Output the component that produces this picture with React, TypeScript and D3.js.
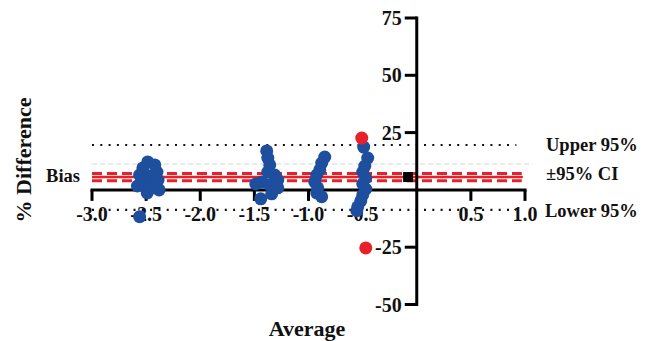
import React from "react";
import * as d3 from "d3";

// Bland-Altman style data: average vs % difference
const blueAvg = [
  -2.485, -2.42, -2.53, -2.4, -2.56, -2.47, -2.51, -2.39, -2.58, -2.45, -2.38, -2.49, -2.56,
  -1.386, -1.376, -1.358, -1.376, -1.312, -1.284, -1.432, -1.487, -1.358, -1.284, -1.34, -1.441,
  -0.85, -0.878, -0.896, -0.924, -0.942, -0.915, -0.924, -0.878,
  -0.49, -0.453, -0.48, -0.499, -0.471, -0.499, -0.471, -0.499, -0.517, -0.545, -0.554,
];
const blueDiff = [
  12.2, 10.9, 9.6, 7.8, 6.5, 6.1, 3.5, 4.3, 1.7, 0.9, 0, -1.3, -11.7,
  17, 13.9, 10.9, 7.8, 6.5, 4.3, 3.5, 2.6, 2.2, 0.9, -1.7, -3.9,
  14.3, 11.7, 8.7, 6.5, 3.5, 0.9, -1.3, -3,
  18.7, 13.9, 10.4, 7.8, 5.2, 2.6, 0.4, -2.2, -4.8, -7.4, -9.1,
];
const redAvg = [-0.508, -0.471];
const redDiff = [22.6, -25.3];
const squareAvg = [-0.08];
const squareDiff = [5.6];

const bias = 5.6;
const biasCI = [4.0, 7.2];
const upperLoA = 19.6;
const lowerLoA = -8.7;
const faintLine = 11.3;

const xTicks = [-3, -2.5, -2, -1.5, -1, -0.5, 0.5, 1];
const yTicks = [-50, -25, 25, 50, 75];

const BLUE = "#1d4f9e";
const RED = "#e8202a";
const FONT = '"Liberation Serif", "DejaVu Serif", "Times New Roman", serif';

export default function App() {
  const width = 649;
  const height = 341;

  const x = d3.scaleLinear().domain([-3, 1]).range([92, 525]);
  const y = d3.scaleLinear().domain([-50, 75]).range([304.5, 18]);

  const fmtX = (v: number) => d3.format(".1f")(v).replace("\u2212", "-");
  const fmtY = (v: number) => d3.format("d")(v).replace("\u2212", "-");

  return (
    <svg
      width={width}
      height={height}
      style={{
        position: "absolute",
        left: 0,
        top: 0,
        background: "#fff",
        fontFamily: FONT,
        fontWeight: 700,
      }}
    >
      {/* limits of agreement */}
      <line x1={x(-3)} x2={x(0.92)} y1={y(upperLoA)} y2={y(upperLoA)} stroke="#111" strokeWidth={2.2} strokeDasharray="2 6.3" />
      <line x1={x(-3)} x2={x(0.92)} y1={y(lowerLoA)} y2={y(lowerLoA)} stroke="#111" strokeWidth={2.2} strokeDasharray="2 6.3" />
      <line x1={x(-3)} x2={x(1.07)} y1={y(faintLine)} y2={y(faintLine)} stroke="#ebebeb" strokeWidth={2} strokeDasharray="5 3" />

      {/* bias and its CI */}
      {biasCI.map((v, i) => (
        <line key={i} x1={x(-3)} x2={x(0.97)} y1={y(v)} y2={y(v)} stroke={RED} strokeWidth={3} strokeDasharray="10 5" />
      ))}
      <line x1={x(-3)} x2={x(0.98)} y1={y(bias)} y2={y(bias)} stroke={RED} strokeWidth={2.5} />

      {/* x axis */}
      <line x1={x(-3) - 1.5} x2={x(1) + 1.5} y1={y(0)} y2={y(0)} stroke="#000" strokeWidth={3} />
      {xTicks.map((t) => (
        <g key={t}>
          <line x1={x(t)} x2={x(t)} y1={y(0)} y2={y(0) + 11} stroke="#000" strokeWidth={3} />
          <text x={x(t)} y={221} fontSize={20} textAnchor="middle" fill="#111">
            {fmtX(t)}
          </text>
        </g>
      ))}

      {/* y axis */}
      <line x1={x(0)} x2={x(0)} y1={y(75) - 1.5} y2={y(-50) + 1.5} stroke="#000" strokeWidth={3} />
      {yTicks.map((t) => (
        <g key={t}>
          <line x1={x(0) - 12} x2={x(0)} y1={y(t)} y2={y(t)} stroke="#000" strokeWidth={3} />
          <text x={x(0) - 15} y={y(t) + 7} fontSize={20} textAnchor="end" fill="#111">
            {fmtY(t)}
          </text>
        </g>
      ))}

      {/* points */}
      {blueAvg.map((a, i) => (
        <circle key={"b" + i} cx={x(a)} cy={y(blueDiff[i])} r={6.5} fill={BLUE} />
      ))}
      {redAvg.map((a, i) => (
        <circle key={"r" + i} cx={x(a)} cy={y(redDiff[i])} r={6.5} fill={RED} />
      ))}
      {squareAvg.map((a, i) => (
        <rect key={"s" + i} x={x(a) - 5} y={y(squareDiff[i]) - 5} width={10} height={10} fill="#000" />
      ))}

      {/* line labels */}
      <text x={80} y={182} fontSize={18.5} textAnchor="end" fill="#111">Bias</text>
      <text x={546} y={151} fontSize={18.5} fill="#111">Upper 95%</text>
      <text x={546} y={180} fontSize={18.5} fill="#111">±95% CI</text>
      <text x={545} y={217} fontSize={18.5} fill="#111">Lower 95%</text>

      {/* axis titles */}
      <text x={307} y={336} fontSize={22} textAnchor="middle" fill="#111">Average</text>
      <text transform="translate(31,160) rotate(-90)" fontSize={22} textAnchor="middle" fill="#111">
        % Difference
      </text>
    </svg>
  );
}
